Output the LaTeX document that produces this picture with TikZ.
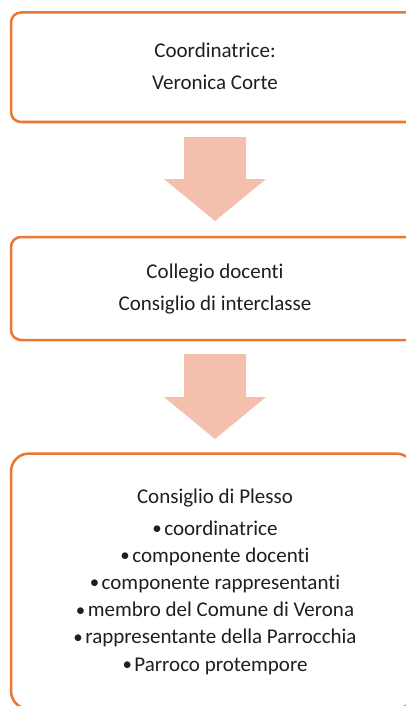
\documentclass[tikz,border=0pt]{standalone}
\usepackage{fontspec}
\setmainfont[Ligatures=NoCommon]{Carlito}
\definecolor{boxline}{RGB}{230,120,50}
\definecolor{arrowfill}{RGB}{244,192,173}
\newcommand{\bul}{\raisebox{0.5pt}{\scalebox{0.9}{•}}\hspace{2.5pt}}
\tikzset{
  orgbox/.style={draw=boxline, line width=2.5pt, fill=white},
  blockarrow/.style={fill=arrowfill, draw=none},
  txt/.style={inner sep=0pt, anchor=base, font=\fontsize{21}{25}\selectfont, text=black!88}
}
\begin{document}
\begin{tikzpicture}[x=1pt,y=-1pt]
\useasboundingbox (0,0) rectangle (406,706);
\clip (0,0) rectangle (406,706);
% boxes
\draw[orgbox, rounded corners=10pt] (11,12.5) rectangle (419,122);
\draw[orgbox, rounded corners=10pt] (11,237) rectangle (419,340);
\draw[orgbox, rounded corners=18pt] (11,453.5) rectangle (414,709);
% arrows
\fill[blockarrow] (184,137) -- (246,137) -- (246,179) -- (266,179) -- (215,221) -- (164,179) -- (184,179) -- cycle;
\fill[blockarrow] (184,354) -- (246,354) -- (246,397) -- (266,397) -- (215,439) -- (164,397) -- (184,397) -- cycle;
% texts box 1
\node[txt] (a1) at (215,57.5) {Coordinatrice:};
\node[txt] (a2) at (215,89.5) {Veronica Corte};
% texts box 2
\node[txt] (b1) at (215,278) {Collegio docenti};
\node[txt] (b2) at (215,310) {Consiglio di interclasse};
% texts box 3
\node[txt] (c0) at (215,503) {Consiglio di Plesso};
\node[txt] (c1) at (215,535) {\bul coordinatrice};
\node[txt] (c2) at (215,562.2) {\bul componente docenti};
\node[txt] (c3) at (215,589.4) {\bul componente rappresentanti};
\node[txt] (c4) at (215,616.6) {\bul membro del Comune di Verona};
\node[txt] (c5) at (215,643.8) {\bul rappresentante della Parrocchia};
\node[txt] (c6) at (215,671) {\bul Parroco protempore};
\end{tikzpicture}
\end{document}
